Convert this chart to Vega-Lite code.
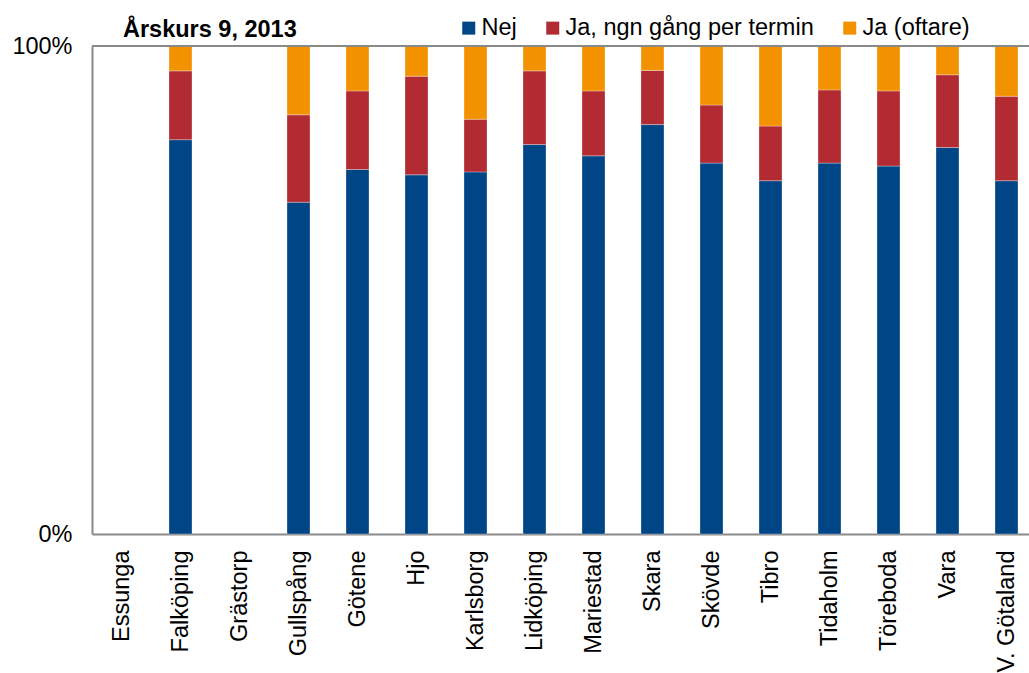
{
  "$schema": "https://vega.github.io/schema/vega-lite/v6.json",
  "width": 937,
  "height": 488,
  "autosize": {"type": "none"},
  "padding": {"left": 92, "top": 46, "right": 0, "bottom": 139},
  "background": "white",
  "config": {
    "view": {"stroke": null},
    "font": "Liberation Sans"
  },
  "title": {
    "text": "Årskurs 9, 2013",
    "anchor": "start",
    "frame": "group",
    "dx": 31,
    "dy": 30,
    "offset": -14,
    "baseline": "alphabetic",
    "font": "Liberation Sans",
    "fontSize": 23.5,
    "fontWeight": "bold",
    "color": "#000000"
  },
  "data": {
    "values": [
      {"kommun": "Falköping", "svar": "Nej", "k": 1, "andel": 0.808},
      {"kommun": "Falköping", "svar": "Ja, ngn gång per termin", "k": 2, "andel": 0.141},
      {"kommun": "Falköping", "svar": "Ja (oftare)", "k": 3, "andel": 0.051},
      {"kommun": "Gullspång", "svar": "Nej", "k": 1, "andel": 0.680},
      {"kommun": "Gullspång", "svar": "Ja, ngn gång per termin", "k": 2, "andel": 0.179},
      {"kommun": "Gullspång", "svar": "Ja (oftare)", "k": 3, "andel": 0.141},
      {"kommun": "Götene", "svar": "Nej", "k": 1, "andel": 0.747},
      {"kommun": "Götene", "svar": "Ja, ngn gång per termin", "k": 2, "andel": 0.161},
      {"kommun": "Götene", "svar": "Ja (oftare)", "k": 3, "andel": 0.092},
      {"kommun": "Hjo", "svar": "Nej", "k": 1, "andel": 0.736},
      {"kommun": "Hjo", "svar": "Ja, ngn gång per termin", "k": 2, "andel": 0.202},
      {"kommun": "Hjo", "svar": "Ja (oftare)", "k": 3, "andel": 0.062},
      {"kommun": "Karlsborg", "svar": "Nej", "k": 1, "andel": 0.742},
      {"kommun": "Karlsborg", "svar": "Ja, ngn gång per termin", "k": 2, "andel": 0.108},
      {"kommun": "Karlsborg", "svar": "Ja (oftare)", "k": 3, "andel": 0.150},
      {"kommun": "Lidköping", "svar": "Nej", "k": 1, "andel": 0.798},
      {"kommun": "Lidköping", "svar": "Ja, ngn gång per termin", "k": 2, "andel": 0.151},
      {"kommun": "Lidköping", "svar": "Ja (oftare)", "k": 3, "andel": 0.051},
      {"kommun": "Mariestad", "svar": "Nej", "k": 1, "andel": 0.775},
      {"kommun": "Mariestad", "svar": "Ja, ngn gång per termin", "k": 2, "andel": 0.133},
      {"kommun": "Mariestad", "svar": "Ja (oftare)", "k": 3, "andel": 0.092},
      {"kommun": "Skara", "svar": "Nej", "k": 1, "andel": 0.839},
      {"kommun": "Skara", "svar": "Ja, ngn gång per termin", "k": 2, "andel": 0.111},
      {"kommun": "Skara", "svar": "Ja (oftare)", "k": 3, "andel": 0.050},
      {"kommun": "Skövde", "svar": "Nej", "k": 1, "andel": 0.760},
      {"kommun": "Skövde", "svar": "Ja, ngn gång per termin", "k": 2, "andel": 0.119},
      {"kommun": "Skövde", "svar": "Ja (oftare)", "k": 3, "andel": 0.121},
      {"kommun": "Tibro", "svar": "Nej", "k": 1, "andel": 0.724},
      {"kommun": "Tibro", "svar": "Ja, ngn gång per termin", "k": 2, "andel": 0.112},
      {"kommun": "Tibro", "svar": "Ja (oftare)", "k": 3, "andel": 0.164},
      {"kommun": "Tidaholm", "svar": "Nej", "k": 1, "andel": 0.760},
      {"kommun": "Tidaholm", "svar": "Ja, ngn gång per termin", "k": 2, "andel": 0.150},
      {"kommun": "Tidaholm", "svar": "Ja (oftare)", "k": 3, "andel": 0.090},
      {"kommun": "Töreboda", "svar": "Nej", "k": 1, "andel": 0.754},
      {"kommun": "Töreboda", "svar": "Ja, ngn gång per termin", "k": 2, "andel": 0.154},
      {"kommun": "Töreboda", "svar": "Ja (oftare)", "k": 3, "andel": 0.092},
      {"kommun": "Vara", "svar": "Nej", "k": 1, "andel": 0.792},
      {"kommun": "Vara", "svar": "Ja, ngn gång per termin", "k": 2, "andel": 0.149},
      {"kommun": "Vara", "svar": "Ja (oftare)", "k": 3, "andel": 0.059},
      {"kommun": "V. Götaland", "svar": "Nej", "k": 1, "andel": 0.724},
      {"kommun": "V. Götaland", "svar": "Ja, ngn gång per termin", "k": 2, "andel": 0.173},
      {"kommun": "V. Götaland", "svar": "Ja (oftare)", "k": 3, "andel": 0.103}
    ]
  },
  "layer": [
    {
      "mark": {"type": "bar", "stroke": "#ffffff", "strokeWidth": 0.6, "strokeOpacity": 0.5},
      "encoding": {
        "x": {
          "field": "kommun",
          "type": "nominal",
          "sort": null,
          "scale": {
            "domain": ["Essunga", "Falköping", "Grästorp", "Gullspång", "Götene", "Hjo", "Karlsborg", "Lidköping", "Mariestad", "Skara", "Skövde", "Tibro", "Tidaholm", "Töreboda", "Vara", "V. Götaland"],
            "range": [0, 944],
            "paddingInner": 0.61,
            "paddingOuter": 0.305
          },
          "axis": {
            "title": null,
            "labelAngle": -90,
            "labelFont": "Liberation Sans",
            "labelFontSize": 23.5,
            "labelColor": "#000000",
            "labelPadding": 16,
            "ticks": false,
            "domainColor": "#898989",
            "domainWidth": 2,
            "grid": false,
            "labelOverlap": false,
            "labelLimit": 300
          }
        },
        "y": {
          "field": "andel",
          "type": "quantitative",
          "stack": "zero",
          "scale": {"domain": [0, 1], "nice": false},
          "axis": {
            "title": null,
            "values": [0, 1],
            "format": ".0%",
            "labelFont": "Liberation Sans",
            "labelFontSize": 23.5,
            "labelColor": "#000000",
            "labelPadding": 20,
            "labelFlush": false,
            "ticks": false,
            "grid": false,
            "domainColor": "#898989",
            "domainWidth": 2
          }
        },
        "color": {
          "field": "svar",
          "type": "nominal",
          "scale": {
            "domain": ["Nej", "Ja, ngn gång per termin", "Ja (oftare)"],
            "range": ["#004586", "#B22A32", "#F39200"]
          },
          "legend": {
            "title": null,
            "orient": "none",
            "direction": "horizontal",
            "legendX": 365,
            "legendY": -30,
            "symbolType": "square",
            "symbolSize": 169,
            "symbolStrokeWidth": 0,
            "labelFont": "Liberation Sans",
            "labelFontSize": 23.5,
            "labelColor": "#000000",
            "labelOffset": 1,
            "columnPadding": 24,
            "labelLimit": 400
          }
        },
        "order": {"field": "k", "type": "quantitative"}
      }
    },
    {
      "mark": {"type": "rule", "color": "#898989", "strokeWidth": 2},
      "encoding": {
        "y": {"datum": 1}
      }
    }
  ]
}
